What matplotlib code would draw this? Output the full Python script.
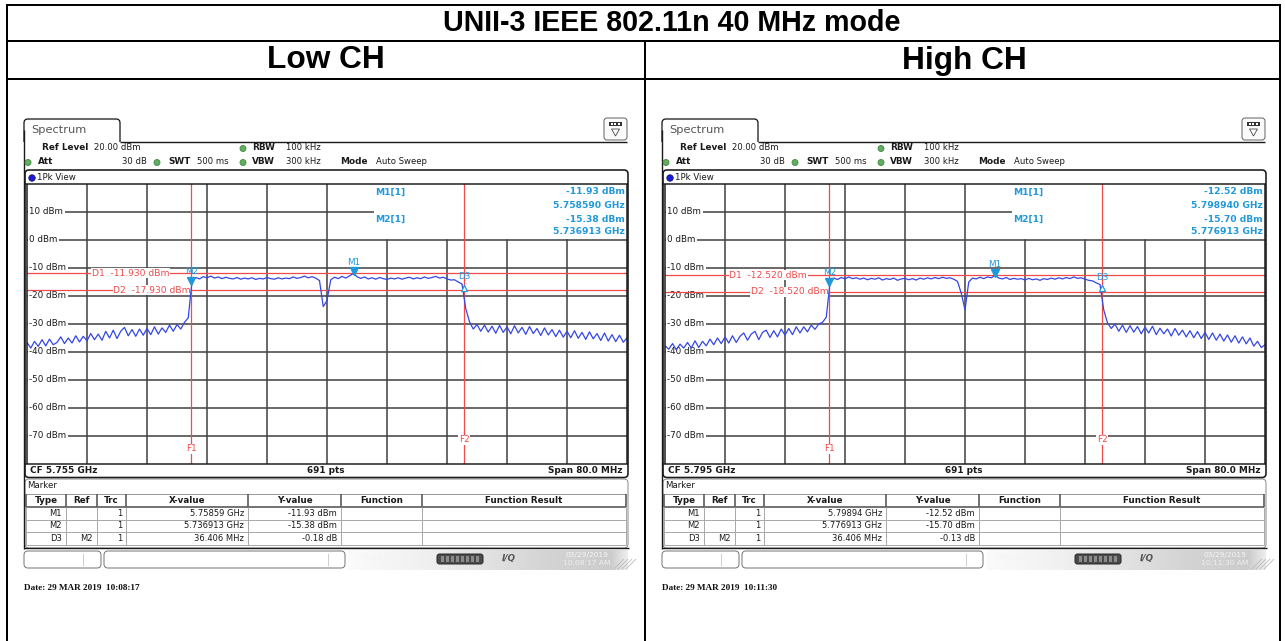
import numpy as np
import matplotlib
matplotlib.use("Agg")
import matplotlib.pyplot as plt
import matplotlib.transforms as mtransforms
from matplotlib.patches import FancyBboxPatch, Rectangle, Circle, Polygon
from matplotlib.lines import Line2D

# ---------------- data ----------------
title = "UNII-3 IEEE 802.11n 40 MHz mode"
channel_labels = ["Low CH", "High CH"]
center_freq_ghz = [5.755, 5.795]
span_mhz = 80.0
ref_level_dbm = 20.0
bottom_level_dbm = -80.0
level_ticks_dbm = [10, 0, -10, -20, -30, -40, -50, -60, -70]
sweep_points = 691

# peak trace, one value every 0.5 MHz across the 80 MHz span
low_trace_dbm = [
    -36.6, -38.6, -36.2, -38.0, -35.6, -37.8, -35.4, -37.4, -36.6, -34.6,
    -37.0, -35.0, -36.8, -34.2, -36.4, -34.4, -36.0, -33.4, -35.6, -33.6,
    -35.8, -32.6, -35.0, -32.2, -35.2, -32.6, -31.2, -34.2, -32.0, -34.4,
    -31.8, -34.0, -31.6, -33.8, -31.0, -33.6, -31.4, -33.0, -30.4, -32.6,
    -30.2, -31.8, -29.4, -27.8,
    -14.8, -13.4, -13.9, -13.1, -13.5, -12.9, -13.6, -13.2, -13.8, -13.3,
    -13.7, -13.9, -13.4, -14.0, -13.6, -13.9, -13.5, -14.1, -13.7, -13.9,
    -13.4, -13.8, -14.0, -13.5, -13.9, -13.6, -13.8, -13.2, -13.7, -13.4,
    -12.9, -13.5, -13.1, -13.6, -14.5, -23.8, -21.6, -14.2, -13.3, -13.8,
    -13.0, -13.6, -12.8, -12.0, -13.1, -13.7, -13.2, -13.9, -13.5, -14.0,
    -13.4, -13.8, -14.1, -13.6, -13.9, -13.5, -14.0, -13.6, -13.3, -13.9,
    -13.5, -13.8, -13.2, -13.7, -13.4, -13.0, -13.6, -13.3, -13.9, -14.3,
    -14.2, -15.0, -15.7,
    -24.5, -29.2, -31.8, -30.2, -32.6, -30.4, -32.9, -30.8, -33.3, -30.5,
    -33.0, -31.0, -33.5, -30.6, -33.2, -31.2, -33.7, -30.9, -33.4, -31.6,
    -34.1, -31.4, -33.9, -32.0, -34.5, -32.2, -34.7, -32.6, -34.9, -32.4,
    -35.1, -33.0, -35.5, -32.8, -35.3, -33.4, -35.9, -33.2, -36.1, -33.8,
    -36.3, -34.0, -36.5, -35.0,
]
high_trace_dbm = [
    -37.8, -39.0, -37.0, -39.2, -37.2, -38.6, -36.6, -38.6, -36.0, -38.4,
    -36.2, -37.8, -35.4, -37.4, -35.0, -37.0, -34.6, -36.8, -34.2, -36.6,
    -34.4, -33.2, -35.8, -33.6, -32.6, -35.6, -33.0, -32.2, -34.8, -32.4,
    -34.6, -31.8, -34.0, -31.6, -33.8, -31.0, -33.2, -31.0, -32.8, -30.4,
    -31.9, -30.0, -29.4, -27.6,
    -15.2, -13.6, -14.1, -13.4, -13.9, -13.2, -13.8, -13.5, -14.0, -13.6,
    -14.2, -13.7, -14.0, -13.5, -14.3, -13.8, -14.1, -13.6, -14.4, -13.9,
    -13.7, -14.2, -13.8, -14.3, -13.6, -14.0, -13.5, -13.9, -13.4, -13.8,
    -13.3, -13.7, -13.5, -14.0, -14.8, -19.0, -24.9, -15.0, -13.6, -13.9,
    -13.3, -13.8, -13.2, -13.5, -12.6, -13.6, -13.9, -13.4, -14.1, -13.7,
    -14.0, -13.8, -14.3, -13.7, -14.2, -13.9, -14.4, -13.8, -14.1, -13.6,
    -14.0, -13.5, -13.9, -13.4, -13.8, -13.2, -13.7, -13.5, -14.0, -14.4,
    -14.6, -15.3, -15.9,
    -25.0, -29.6, -31.6, -30.0, -32.6, -30.4, -33.0, -30.6, -32.9, -30.9,
    -33.5, -31.1, -33.2, -30.8, -33.8, -31.5, -33.5, -31.8, -34.3, -31.6,
    -34.0, -32.2, -34.6, -32.4, -34.9, -32.7, -35.2, -33.0, -35.5, -33.2,
    -35.8, -33.6, -36.1, -33.9, -36.5, -34.2, -36.8, -34.6, -37.1, -35.0,
    -37.9, -36.2, -38.4, -37.4,
]
traces_dbm = [low_trace_dbm, high_trace_dbm]

m1_freq_ghz = [5.758590, 5.798940]
m1_level_dbm = [-11.93, -12.52]
m2_freq_ghz = [5.736913, 5.776913]
m2_level_dbm = [-15.38, -15.70]
d3_delta_mhz = [36.406, 36.406]
d3_delta_db = [-0.18, -0.13]
d1_level_dbm = [-11.930, -12.520]
d2_level_dbm = [-17.930, -18.520]
screen_dates = ["03/29/2019", "03/29/2019"]
screen_times = ["10:08:17 AM", "10:11:30 AM"]
capture_stamps = ["29 MAR 2019  10:08:17", "29 MAR 2019  10:11:30"]

# ---------------- canvas helpers (pixel coordinates, y down) ----------------
W, H = 1285, 641
fig = plt.figure(figsize=(W / 100, H / 100), dpi=100)
fig.patch.set_facecolor("white")
PX = mtransforms.Affine2D().scale(1, -1).translate(0, H)
LW = 0.72  # points per pixel

UI = ["DejaVu Sans"]
RED = "#f04a4a"
TRACE = "#3446e6"
MBLUE = "#1f98dc"
GRID = "#404040"
DARK = "#1a1a1a"
GREEN = "#62ad62"


def line(xs, ys, color=DARK, w=1.0, z=5):
    fig.add_artist(Line2D(xs, ys, transform=PX, color=color, lw=w * LW,
                          zorder=z, solid_capstyle="butt"))


def txt(x, y, s, size=6.2, ha="left", va="center", weight="normal",
        color=DARK, family=UI, z=7, **kw):
    fig.text(x, y, s, transform=PX, fontsize=size, ha=ha, va=va,
             weight=weight, color=color, family=family, zorder=z, **kw)


def rbox(x0, y0, x1, y1, r, ec, w=1.0, fc="none", z=4):
    fig.add_artist(FancyBboxPatch((x0, y0), x1 - x0, y1 - y0,
                                  boxstyle=f"round,pad=0,rounding_size={r}",
                                  transform=PX, ec=ec, fc=fc, lw=w * LW, zorder=z))


def rect(x0, y0, x1, y1, fc, z=4, ec="none", w=1.0):
    fig.add_artist(Rectangle((x0, y0), x1 - x0, y1 - y0, transform=PX,
                             fc=fc, ec=ec, lw=w * LW, zorder=z))


def dot(x, y, r, fc, ec):
    fig.add_artist(Circle((x, y), r, transform=PX, fc=fc, ec=ec,
                          lw=0.6, zorder=6))


def freq_text(v):
    return f"{v:.6f}".rstrip("0") + " GHz"


# ---------------- outer report table ----------------
TL = 2.0
line([7, 1280], [5, 5], "black", TL)
line([7, 1280], [41, 41], "black", TL)
line([7, 1280], [79, 79], "black", TL)
line([7, 7], [4, 641], "black", TL)
line([1280, 1280], [4, 641], "black", TL)
line([645, 645], [41, 641], "black", TL)
txt(672, 23, title, 20.6, ha="center", weight="bold", color="black",
    family=["Liberation Sans"])
txt(326, 60.5, channel_labels[0], 22.8, ha="center", weight="bold",
    color="black", family=["Liberation Sans"])
txt(964, 60.5, channel_labels[1], 22.8, ha="center", weight="bold",
    color="black", family=["Liberation Sans"])


# ---------------- one analyzer screen ----------------
def draw_panel(i):
    dx = 638 * i
    cf = center_freq_ghz[i]
    half = span_mhz / 2000.0
    f_lo, f_hi = cf - half, cf + half
    trace = np.array(traces_dbm[i])
    freqs = np.linspace(f_lo, f_hi, len(trace))
    f1 = m2_freq_ghz[i]
    f2 = m2_freq_ghz[i] + d3_delta_mhz[i] / 1000.0
    d3_level = m2_level_dbm[i] + d3_delta_db[i]

    # tab and header strip
    rbox(24 + dx, 119, 120 + dx, 160, 4, DARK, 1.3, fc="white", z=3)
    rect(22 + dx, 141.8, 122 + dx, 168, "white", z=3.5)
    line([120 + dx, 627 + dx], [141.5, 141.5], DARK, 1.4)
    line([24 + dx, 24 + dx], [130, 549], DARK, 1.4)
    txt(31 + dx, 130, "Spectrum", 8.2, color="#555555")

    rbox(604 + dx, 118, 627 + dx, 140, 3, "#666666", 1.0, fc="#fafafa", z=4)
    rect(609 + dx, 121.5, 621.5 + dx, 126, "#333333", z=5)
    for k in range(3):
        rect(610.5 + dx + 3.6 * k, 122.6, 612.5 + dx + 3.6 * k, 124.8, "white", z=6)
    fig.add_artist(Polygon([[611.5 + dx, 129], [619.5 + dx, 129], [615.5 + dx, 136]],
                           closed=True, transform=PX, fc="none", ec="#444444",
                           lw=0.8 * LW, zorder=5))

    # acquisition settings
    txt(42 + dx, 148, "Ref Level", 6.4, weight="bold")
    txt(94 + dx, 148, f"{ref_level_dbm:.2f} dBm", 6.1)
    dot(243 + dx, 148.5, 3, GREEN, "#3f8a3f")
    txt(252 + dx, 148, "RBW", 6.4, weight="bold")
    txt(286 + dx, 148, "100 kHz", 6.1)
    dot(28 + dx, 162.5, 3, GREEN, "#3f8a3f")
    txt(38 + dx, 162, "Att", 6.4, weight="bold")
    txt(147 + dx, 162, "30 dB", 6.1, ha="right")
    dot(157 + dx, 162.5, 3, GREEN, "#3f8a3f")
    txt(168 + dx, 162, "SWT", 6.4, weight="bold")
    txt(197 + dx, 162, "500 ms", 6.1)
    dot(243 + dx, 162.5, 3, GREEN, "#3f8a3f")
    txt(252 + dx, 162, "VBW", 6.4, weight="bold")
    txt(286 + dx, 162, "300 kHz", 6.1)
    txt(340 + dx, 162, "Mode", 6.4, weight="bold")
    txt(376 + dx, 162, "Auto Sweep", 6.1)

    # display frame
    rbox(25 + dx, 170, 628 + dx, 477.5, 4, DARK, 1.6, z=5)
    dot(32 + dx, 178, 3.2, "#1a1ad8", "#101070")
    txt(37 + dx, 178, "1Pk View", 6.2)

    # diagram area
    ax = fig.add_axes([(27 + dx) / W, 1 - 464 / H, 600 / W, (464 - 184) / H])
    ax.set_xlim(f_lo, f_hi)
    ax.set_ylim(bottom_level_dbm, ref_level_dbm)
    ax.axis("off")
    ylab = mtransforms.blended_transform_factory(ax.transAxes, ax.transData)
    info_left = 0.578
    for k in range(1, 10):
        gx = f_lo + k * span_mhz / 10000.0
        ax.axvline(gx, ymin=0, ymax=1.0 if k <= 5 else 0.8, color=GRID,
                   lw=1.1, zorder=1)
    for lv in level_ticks_dbm:
        ax.axhline(lv, xmin=0, xmax=info_left if lv == 10 else 1.0,
                   color=GRID, lw=1.1, zorder=1)
        ax.text(0.004, lv, f"{lv} dBm", transform=ylab, fontsize=6.3,
                family=UI, color=DARK, ha="left", va="center", zorder=2,
                bbox=dict(fc="white", ec="none", pad=1.0))

    # display lines and frequency lines
    for lv in (d1_level_dbm[i], d2_level_dbm[i]):
        ax.axhline(lv, color=RED, lw=0.9, zorder=3)
    for fv in (f1, f2):
        ax.axvline(fv, color=RED, lw=0.9, zorder=3)
    ax.text(f1 - 0.00295, d1_level_dbm[i], f"D1  {d1_level_dbm[i]:.3f} dBm",
            color=RED, fontsize=6.6, family=UI, ha="right", va="center",
            zorder=3.5, bbox=dict(fc="white", ec="none", pad=0.3))
    ax.text(f1 - 0.0001, d2_level_dbm[i], f"D2  {d2_level_dbm[i]:.3f} dBm",
            color=RED, fontsize=6.6, family=UI, ha="right", va="center",
            zorder=3.5, bbox=dict(fc="white", ec="none", pad=0.3))
    ax.text(f1, -74.6, "F1", color=RED, fontsize=6.4, family=UI,
            ha="center", va="center", zorder=3.5,
            bbox=dict(fc="white", ec="none", pad=0.5))
    ax.text(f2, -71.4, "F2", color=RED, fontsize=6.4, family=UI,
            ha="center", va="center", zorder=3.5,
            bbox=dict(fc="white", ec="none", pad=0.5))

    # marker readout area
    ax.add_patch(Rectangle((info_left, 0.803), 1 - info_left, 0.197,
                           transform=ax.transAxes, fc="white", ec="none",
                           zorder=1.5))

    # trace and markers
    ax.plot(freqs, trace, color=TRACE, lw=0.9, zorder=4)
    up = mtransforms.offset_copy(ax.transData, fig=fig, y=1.6, units="points")
    dn = mtransforms.offset_copy(ax.transData, fig=fig, y=-3.0, units="points")
    ax.plot([m1_freq_ghz[i]], [m1_level_dbm[i]], marker="v", ms=5.2,
            color=MBLUE, transform=up, zorder=5)
    ax.plot([m2_freq_ghz[i]], [m2_level_dbm[i]], marker="v", ms=5.2,
            color=MBLUE, transform=up, zorder=5)
    ax.plot([f2], [d3_level], marker="^", ms=5.0, mfc="white", mec=MBLUE,
            mew=0.9, transform=dn, zorder=5)
    for name, fv, lv, oy in (("M1", m1_freq_ghz[i], m1_level_dbm[i], 7.7),
                             ("M2", m2_freq_ghz[i], m2_level_dbm[i], 8.1),
                             ("D3", f2, d3_level, 4.8)):
        ax.annotate(name, (fv, lv), xytext=(0, oy), textcoords="offset points",
                    ha="center", va="center", color=MBLUE, fontsize=6.4,
                    family=UI, zorder=5)

    # diagram border
    line([25 + dx, 628 + dx], [184, 184], DARK, 1.5)
    line([25 + dx, 628 + dx], [464, 464], DARK, 1.5)
    line([27 + dx, 27 + dx], [184, 464], DARK, 1.5)
    line([627 + dx, 627 + dx], [184, 464], DARK, 1.5)

    # readout text
    txt(375 + dx, 192, "M1[1]", 6.6, weight="bold", color=MBLUE)
    txt(625 + dx, 192, f"{m1_level_dbm[i]:.2f} dBm", 6.6, ha="right",
        weight="bold", color=MBLUE)
    txt(625 + dx, 205, f"{m1_freq_ghz[i]:.6f} GHz", 6.6, ha="right",
        weight="bold", color=MBLUE)
    txt(375 + dx, 219, "M2[1]", 6.6, weight="bold", color=MBLUE)
    txt(625 + dx, 219, f"{m2_level_dbm[i]:.2f} dBm", 6.6, ha="right",
        weight="bold", color=MBLUE)
    txt(625 + dx, 232, f"{m2_freq_ghz[i]:.6f} GHz", 6.6, ha="right",
        weight="bold", color=MBLUE)

    # footer of the diagram
    txt(30 + dx, 470.5, f"CF {cf:.3f} GHz", 6.4, weight="bold")
    txt(326 + dx, 470.5, f"{sweep_points} pts", 6.4, weight="bold", ha="center")
    txt(622 + dx, 470.5, f"Span {span_mhz:.1f} MHz", 6.4, weight="bold", ha="right")

    # marker table
    rbox(25 + dx, 479, 628 + dx, 548, 4, "#8a8a8a", 1.0, z=4)
    line([24 + dx, 629 + dx], [548, 548], DARK, 1.4)
    txt(27 + dx, 486, "Marker", 6.2)
    cols = [26, 66, 97, 126, 248, 341, 422, 626]
    rows_y = [494, 507, 519.5, 532, 544.5]
    line([cols[0] + dx, cols[-1] + dx], [rows_y[0], rows_y[0]], "#9a9a9a", 1.0)
    line([cols[0] + dx, cols[-1] + dx], [rows_y[1], rows_y[1]], "#555555", 1.6)
    for yy in rows_y[2:]:
        line([cols[0] + dx, cols[-1] + dx], [yy, yy], "#aaaaaa", 1.0)
    for cx in cols:
        line([cx + dx, cx + dx], [rows_y[0], rows_y[1]], "#555555", 1.6)
        line([cx + dx, cx + dx], [rows_y[1], rows_y[-1]], "#aaaaaa", 1.0)
    headers = ["Type", "Ref", "Trc", "X-value", "Y-value", "Function",
               "Function Result"]
    for k, hname in enumerate(headers):
        txt((cols[k] + cols[k + 1]) / 2 + dx, 500.5, hname, 6.3,
            weight="bold", ha="center")
    table_rows = [
        ["M1", "", "1", freq_text(m1_freq_ghz[i]), f"{m1_level_dbm[i]:.2f} dBm"],
        ["M2", "", "1", freq_text(m2_freq_ghz[i]), f"{m2_level_dbm[i]:.2f} dBm"],
        ["D3", "M2", "1", f"{d3_delta_mhz[i]:.3f} MHz", f"{d3_delta_db[i]:.2f} dB"],
    ]
    for r, row in enumerate(table_rows):
        yc = (rows_y[r + 1] + rows_y[r + 2]) / 2
        for k, cell in enumerate(row):
            if cell:
                txt(cols[k + 1] - 4 + dx, yc, cell, 6.0, ha="right")

    # status bar
    rbox(24 + dx, 551, 101 + dx, 568, 4, "#777777", 1.0, fc="white", z=4)
    line([83 + dx, 83 + dx], [553, 566], "#d0d0d0", 1.0)
    rbox(104 + dx, 551, 345 + dx, 568, 4, "#777777", 1.0, fc="white", z=4)
    line([328 + dx, 328 + dx], [553, 566], "#d0d0d0", 1.0)
    gx = np.arange(280)
    shade = np.interp(gx, [0, 80, 200, 262, 279], [0.985, 0.94, 0.83, 0.80, 0.93])
    img = np.repeat(np.repeat(shade[None, :, None], 20, axis=0), 3, axis=2)
    fig.figimage(img, xo=348 + dx, yo=H - 570, zorder=2)
    txt(360 + dx, 558, "Measuring...", 5.8, color="#f4f4f4")
    rbox(437 + dx, 554, 483 + dx, 564, 2.5, "#2a2a2a", 1.0, fc="#4a4a4a", z=5)
    for k in range(8):
        rect(441 + dx + 5 * k, 556, 444 + dx + 5 * k, 562, "#8a8a8a", z=6)
    txt(509 + dx, 559, "I/Q", 6.4, weight="bold", ha="center", color="#555555",
        style="italic")
    txt(587 + dx, 554.5, screen_dates[i], 5.4, ha="center", color="#f6f6f6")
    txt(587 + dx, 563, screen_times[i], 5.4, ha="center", color="#efefef")
    for k in range(4):
        line([614 + dx + 4 * k, 624 + dx + 4 * k], [569, 559], "#b8b8b8", 0.8, z=6)

    # capture stamp
    txt(24 + dx, 588, "Date: " + capture_stamps[i], 6.6, weight="bold",
        family=["Liberation Serif"], color="#111111")


draw_panel(0)
draw_panel(1)

fig.savefig("out.png", dpi=100)
